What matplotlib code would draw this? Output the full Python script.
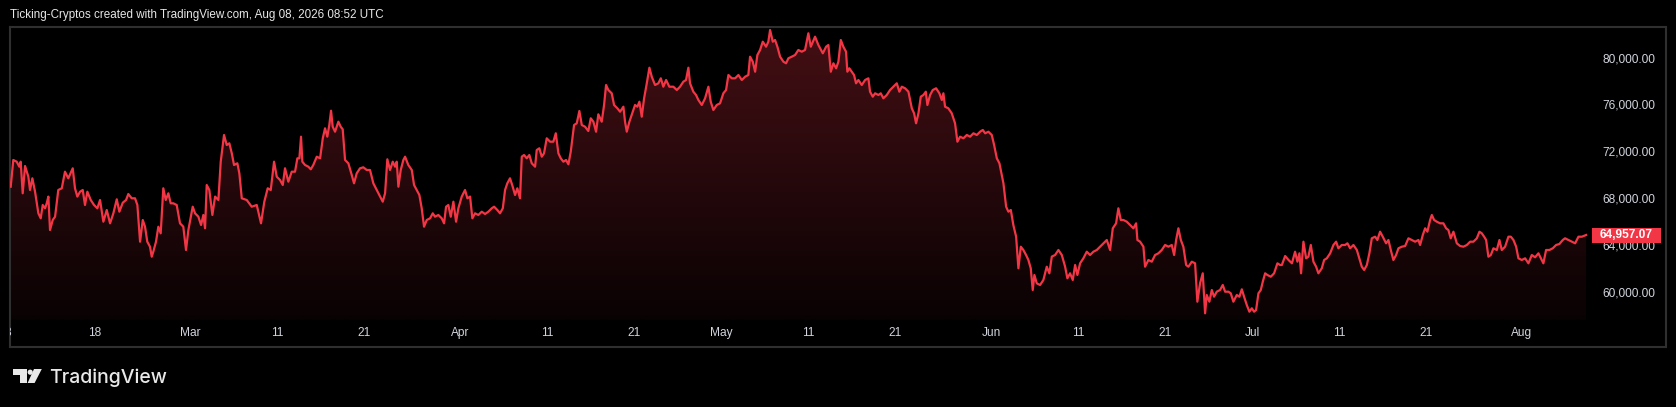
import numpy as np
import pandas as pd
import matplotlib
matplotlib.use("Agg")
import matplotlib.pyplot as plt
import matplotlib.dates as mdates
from matplotlib.colors import LinearSegmentedColormap
from matplotlib.patches import Rectangle, Polygon, Circle
from matplotlib.transforms import IdentityTransform

W, H, DPI = 1676, 407, 100

# ---------------- data (days after 2026-02-08 00:00 UTC, price in USD) ----------------
START = "2026-02-08"

feb_days = [0.33, 0.63, 1.02, 1.32, 1.48, 1.71, 1.98, 2.36, 2.55, 2.82,
            3.13, 3.51, 3.78, 4.01, 4.28, 4.47, 4.66, 4.85, 5.16, 5.43,
            5.80, 6.20, 6.57, 6.95, 7.46, 7.72, 7.99, 8.30, 8.61, 8.87,
            9.14, 9.53, 9.91, 10.29, 10.60, 10.98, 11.37, 11.75, 12.13, 12.52,
            12.82, 13.21, 13.59, 13.85, 14.24, 14.62, 14.89, 15.20, 15.51, 15.77,
            16.03, 16.34, 16.54, 16.72, 17.03, 17.30, 17.57, 17.87, 18.15, 18.45,
            18.72, 19.02, 19.41, 19.79, 20.17, 20.48, 20.75, 21.25, 21.52, 21.90,
            22.21, 22.47, 22.67, 22.86, 23.16, 23.51, 23.82, 24.20, 24.47, 24.85,
            25.16, 25.46, 25.74, 26.00, 26.38, 26.61, 26.89, 27.46, 28.03, 28.61,
            29.10, 29.48, 29.87, 30.22, 30.60, 30.91, 31.29]
feb_prices = [69085, 71368, 71223, 70796, 71223, 68522, 70855, 69940, 68804, 69803,
              68658, 66812, 66385, 67521, 67239, 67667, 68239, 65385, 66240, 66522,
              68804, 68949, 70368, 69803, 70658, 68949, 68239, 68658, 68804, 67521,
              68658, 67949, 67521, 67239, 67949, 66094, 67094, 65957, 66812, 68009,
              66949, 67718, 67949, 68462, 68094, 68094, 67521, 64385, 66240, 65667,
              64385, 63958, 63103, 63530, 64385, 65667, 65103, 68949, 67949, 68522,
              67667, 67667, 67521, 65957, 65667, 63676, 65385, 67376, 66812, 66522,
              65812, 66667, 65530, 69231, 68804, 66667, 68239, 67949, 71223, 73505,
              72650, 72795, 71940, 70940, 71085, 70231, 68094, 67949, 67376, 67521,
              65957, 67804, 68949, 68804, 71223, 69940, 69658]

mar_days = [31.60, 31.86, 32.24, 32.63, 33.01, 33.28, 33.51, 33.70, 33.85, 34.16,
            34.54, 34.82, 35.11, 35.51, 35.89, 36.20, 36.46, 36.72, 36.95, 37.15,
            37.34, 37.61, 37.99, 38.26, 38.49, 38.76, 39.14, 39.53, 39.79, 40.10,
            40.48, 40.86, 41.25, 41.63, 42.01, 42.40, 42.78, 43.09, 43.36, 43.62,
            43.93, 44.24, 44.51, 44.70, 44.89, 45.16, 45.46, 45.66, 46.03, 46.43,
            46.69, 47.00, 47.30, 47.57, 47.84, 48.15, 48.53, 48.84, 49.10, 49.48,
            49.87, 50.14, 50.37, 50.63, 50.91, 51.21, 51.52, 51.78, 52.17, 52.55,
            52.82, 53.13, 53.39, 53.70, 54.08, 54.47, 54.85, 55.23, 55.62, 55.89,
            56.26, 56.57, 56.89, 57.15, 57.41, 57.72, 58.03, 58.30, 58.56, 58.87,
            59.07, 59.33, 59.64, 59.94, 60.22, 60.60, 60.79, 61.09, 61.37, 61.63,
            61.94, 62.32]
mar_prices = [69231, 70658, 69513, 70368, 70368, 71513, 71513, 73359, 71223, 70940,
              70796, 70573, 70940, 71650, 71513, 73223, 74077, 73359, 74359, 75581,
              74214, 73786, 74641, 74214, 73991, 71368, 71085, 70085, 69376, 70231,
              70658, 70744, 70513, 70513, 69376, 68804, 68239, 67804, 68522, 71427,
              70513, 71223, 70796, 71223, 69085, 70513, 71368, 71650, 70940, 70513,
              69231, 68804, 68376, 67239, 65667, 66240, 66385, 66812, 66522, 66667,
              66385, 65957, 67376, 67521, 66522, 67804, 66094, 67239, 68239, 68804,
              68094, 68239, 66385, 66812, 66667, 66949, 66753, 66949, 67239, 67376,
              67094, 66812, 67239, 68804, 69376, 69803, 69085, 68376, 68949, 68094,
              71650, 71795, 71513, 71795, 71085, 70796, 72222, 72368, 71650, 71940,
              73223, 72932]

apr_days = [62.70, 62.98, 63.28, 63.55, 63.85, 64.16, 64.43, 64.70, 65.08, 65.39,
            65.69, 65.97, 66.34, 66.72, 67.00, 67.30, 67.61, 67.87, 68.26, 68.53,
            68.76, 69.02, 69.41, 69.68, 70.06, 70.37, 70.75, 70.94, 71.14, 71.44,
            71.83, 72.09, 72.36, 72.59, 72.86, 73.13, 73.44, 73.74, 74.01, 74.39,
            74.77, 75.05, 75.34, 75.66, 76.03, 76.49, 76.89, 77.26, 77.64, 77.95,
            78.22, 78.41, 78.79, 79.10, 79.37, 79.76, 80.14, 80.52, 80.79, 81.09,
            81.48, 81.86, 82.24, 82.55, 82.82, 83.21, 83.59, 83.97, 84.36, 84.74,
            85.11, 85.31, 85.62, 85.89, 86.15, 86.46, 86.77, 87.15, 87.41, 87.61,
            87.92, 88.18, 88.45, 88.76, 89.14, 89.45, 89.71, 90.10, 90.48, 90.86,
            91.25, 91.63, 92.01, 92.29]
apr_prices = [72932, 73650, 71940, 71513, 71223, 71368, 71000, 72077, 74359, 74504,
              75556, 74359, 74214, 73846, 74932, 74641, 73786, 75274, 74641, 76068,
              77778, 77350, 77069, 76068, 75786, 75496, 75923, 74641, 73786, 74641,
              75496, 76068, 75923, 76351, 75069, 76641, 77923, 79257, 78487, 77778,
              77923, 78350, 77632, 78205, 77632, 77632, 77350, 77632, 78060, 78205,
              79257, 77923, 77205, 76923, 76496, 76068, 76641, 77632, 76351, 75641,
              76068, 76213, 77069, 77350, 78632, 78350, 78350, 78632, 78205, 78487,
              78632, 80197, 79770, 78915, 80342, 80770, 81479, 81052, 81479, 82479,
              81479, 81624, 81052, 80197, 79770, 79633, 80060, 80197, 80342, 80770,
              80624, 80770, 82197, 81052]

may_days = [92.78, 93.16, 93.67, 94.05, 94.31, 94.59, 94.89, 95.20, 95.46, 95.74,
            96.03, 96.34, 96.49, 96.72, 97.00, 97.26, 97.49, 97.76, 98.15, 98.53,
            98.91, 99.10, 99.41, 99.68, 100.06, 100.33, 100.63, 101.02, 101.40, 101.78,
            102.17, 102.47, 102.75, 103.13, 103.51, 103.90, 104.16, 104.39, 104.66, 104.93,
            105.23, 105.51, 105.69, 106.00, 106.31, 106.69, 107.07, 107.35, 107.53, 107.72,
            108.10, 108.49, 108.87, 109.14, 109.45, 109.83, 110.22, 110.60, 110.98, 111.37,
            111.75, 112.06, 112.33, 112.70, 113.09, 113.36, 113.67, 113.97]
may_prices = [81906, 81197, 80487, 81052, 81197, 78915, 79633, 79205, 79770, 81624,
              81052, 80624, 78915, 79205, 78915, 78632, 77923, 78205, 77778, 78205,
              78350, 77205, 76778, 77069, 76923, 77069, 76641, 76923, 77350, 77632,
              77923, 77205, 77632, 77496, 77205, 75786, 75359, 74504, 75359, 76778,
              76923, 77205, 76068, 76923, 77350, 77496, 77069, 76496, 77069, 75923,
              75786, 75359, 74504, 72932, 73359, 73223, 73505, 73359, 73650, 73505,
              73786, 73932, 73650, 73786, 73505, 72650, 71513, 71085]

jun_days = [114.43, 114.74, 115.00, 115.28, 115.57, 115.89, 116.15, 116.43, 116.72, 117.03,
            117.30, 117.57, 117.80, 117.99, 118.26, 118.64, 119.02, 119.41, 119.71, 119.99,
            120.37, 120.75, 121.14, 121.52, 121.78, 122.09, 122.40, 122.67, 122.93, 123.24,
            123.62, 124.01, 124.39, 124.77, 125.16, 125.54, 125.92, 126.31, 126.69, 127.00,
            127.38, 127.64, 127.92, 128.22, 128.61, 128.99, 129.37, 129.68, 129.83, 130.14,
            130.52, 130.71, 131.09, 131.48, 131.86, 132.24, 132.63, 133.01, 133.39, 133.78,
            134.05, 134.28, 134.54, 134.82, 135.11, 135.43, 135.69, 136.08, 136.46, 136.72,
            137.03, 137.34, 137.61, 137.80, 138.10, 138.38, 138.64, 138.95, 139.33, 139.64,
            139.91, 140.29, 140.56, 140.86, 141.25, 141.55, 141.83, 142.09, 142.40, 142.70,
            142.98, 143.24, 143.47, 143.74, 144.01, 144.24, 144.51, 144.77, 145.16, 145.54,
            145.92, 146.23]
jun_prices = [69376, 67376, 66949, 67094, 65812, 64812, 62111, 63957, 63676, 63248,
              62821, 62111, 60257, 61539, 60829, 60684, 61112, 62248, 61684, 63111,
              63248, 63676, 63248, 62248, 61257, 61684, 61112, 62393, 61539, 62538,
              62966, 63530, 63248, 63530, 63676, 63958, 64248, 64530, 63676, 65530,
              65957, 67239, 66240, 66240, 66094, 65812, 65530, 65957, 64530, 64385,
              63958, 62248, 62821, 62676, 63248, 63393, 63676, 64103, 63958, 64103,
              63248, 64530, 65530, 64530, 63958, 62393, 62248, 62676, 62538, 59257,
              60829, 61684, 58265, 59829, 59257, 60257, 59684, 60112, 60257, 60684,
              60112, 60112, 59974, 59257, 59829, 59684, 60317, 59684, 58974, 58401,
              58692, 58401, 58547, 59974, 60257, 60966, 61684, 61539, 61393, 61684,
              62538, 62393]

jul_days = [146.43, 146.81, 147.20, 147.59, 147.95, 148.22, 148.45, 148.64, 148.91, 149.22,
            149.48, 149.76, 150.06, 150.37, 150.63, 151.02, 151.29, 151.60, 151.98, 152.36,
            152.67, 152.93, 153.32, 153.70, 153.97, 154.28, 154.66, 155.05, 155.34, 155.62,
            155.89, 156.20, 156.49, 156.77, 157.15, 157.41, 157.72, 158.03, 158.41, 158.68,
            158.95, 159.25, 159.56, 159.83, 160.22, 160.60, 160.98, 161.37, 161.75, 162.13,
            162.32, 162.63, 162.90, 163.16, 163.47, 163.67, 163.93, 164.24, 164.62, 165.00,
            165.31, 165.57, 165.84, 166.15, 166.54, 166.92, 167.30, 167.69, 168.07, 168.45,
            168.84, 169.14, 169.41, 169.68, 169.91, 170.17, 170.45, 170.75, 171.14, 171.44,
            171.71, 172.09, 172.47, 172.75, 173.05, 173.36, 173.62, 174.01, 174.39, 174.77,
            175.16, 175.54, 175.92, 176.31, 176.49, 176.80, 177.18, 177.57, 177.95, 178.33,
            178.72, 178.98, 179.37, 179.76, 180.14, 180.52, 180.91, 181.40]
jul_prices = [62393, 63163, 62821, 62538, 63530, 62675, 63393, 61684, 64385, 62966,
              63103, 64103, 62676, 62248, 61684, 62111, 62821, 62966, 63393, 64103,
              64385, 63821, 64103, 64103, 64248, 63821, 64103, 63676, 62966, 62248,
              61966, 62393, 63393, 64675, 64812, 64530, 65240, 64812, 64248, 64530,
              63676, 62821, 63248, 63821, 63958, 64017, 64675, 64530, 64385, 64530,
              64103, 64958, 65530, 65240, 66240, 66667, 66240, 66094, 65957, 65957,
              65530, 65385, 64675, 65240, 64248, 64017, 63958, 64103, 64385, 64385,
              64675, 65240, 65103, 64812, 64530, 63103, 63248, 63821, 63676, 64530,
              63676, 63958, 64812, 64812, 64530, 63958, 62966, 62821, 62966, 62538,
              63248, 63052, 63393, 62821, 62538, 63676, 63676, 63821, 64103, 64188,
              64530, 64675, 64530, 64385, 64248, 64812, 64812, 64957.07]

y_ticks = [60000, 64000, 68000, 72000, 76000, 80000]
x_tick_dates = ["2026-02-08", "2026-02-18", "2026-03-01", "2026-03-11", "2026-03-21",
                "2026-04-01", "2026-04-11", "2026-04-21", "2026-05-01", "2026-05-11",
                "2026-05-21", "2026-06-01", "2026-06-11", "2026-06-21", "2026-07-01",
                "2026-07-11", "2026-07-21", "2026-08-01"]
x_tick_labels = ["8", "18", "Mar", "11", "21", "Apr", "11", "21", "May", "11",
                 "21", "Jun", "11", "21", "Jul", "11", "21", "Aug"]
title = "Ticking-Cryptos created with TradingView.com, Aug 08, 2026 08:52 UTC"
brand = "TradingView"

x_range = ["2026-02-08 06:00", "2026-08-17 14:00"]
y_range = (55385, 82735)
pane_floor = 57700

# ---------------- style ----------------
BG = "#000000"
LINE = "#f23645"
TXT = "#d1d4dc"
FRAME = "#2f2f2f"
FONT = ["Liberation Sans", "DejaVu Sans"]

days = np.array(feb_days + mar_days + apr_days + may_days + jun_days + jul_days)
prices = np.array(feb_prices + mar_prices + apr_prices + may_prices + jun_prices + jul_prices, dtype=float)
times = pd.Timestamp(START) + pd.to_timedelta(days, unit="D")
xn = mdates.date2num(times.to_pydatetime())
x0, x1 = mdates.date2num(pd.to_datetime(x_range).to_pydatetime())

fig = plt.figure(figsize=(W / DPI, H / DPI), dpi=DPI, facecolor=BG)


def fx(px):
    return px / W


def fy(py):
    return 1 - py / H


ax = fig.add_axes([fx(10), fy(347), fx(1666) - fx(10), fy(27) - fy(347)])
ax.set_facecolor(BG)
for s in ax.spines.values():
    s.set_color(FRAME)
    s.set_linewidth(1.5)
ax.set_xticks([])
ax.set_yticks([])

# gradient area under the line
cmap = LinearSegmentedColormap.from_list("area", ["#090203", "#440f14"])
grad = np.linspace(0, 1, 256).reshape(-1, 1)
im = ax.imshow(grad, cmap=cmap, origin="lower", aspect="auto",
               extent=[xn[0], xn[-1], pane_floor, prices.max()], zorder=1,
               interpolation="bilinear")
poly = ax.fill_between(xn, prices, pane_floor, facecolor="none", edgecolor="none")
im.set_clip_path(poly.get_paths()[0], transform=ax.transData)

ax.plot(xn, prices, color=LINE, lw=1.6, zorder=3, solid_joinstyle="round")

ax.set_xlim(x0, x1)
ax.set_ylim(*y_range)

# price scale labels
for v in y_ticks:
    ax.text((1602 - 10) / 1656, v, f"{v:,.2f}", transform=ax.get_yaxis_transform(),
            ha="left", va="center", color=TXT, fontsize=8.6, family=FONT, zorder=4)

# time scale labels
for d, lab in zip(x_tick_dates, x_tick_labels):
    ax.text(mdates.date2num(pd.Timestamp(d).to_pydatetime()), (347 - 333) / 320, lab,
            transform=ax.get_xaxis_transform(), ha="center", va="center",
            color=TXT, fontsize=8.6, family=FONT, clip_on=True, zorder=4)

# last price marker
last = prices[-1]
fig.canvas.draw()
yd = ax.transData.transform((xn[-1], last))[1]
box = Rectangle((1592, yd - 7.5), 69, 15, transform=IdentityTransform(),
                facecolor=LINE, edgecolor="none", zorder=5)
fig.add_artist(box)
fig.text(1600 / W, yd / H, f"{last:,.2f}", ha="left", va="center", color="white",
         fontsize=8.6, family=FONT, fontweight="bold", zorder=6)

# header
fig.text(fx(10), fy(15), title, ha="left", va="center", color="#e6e6e6",
         fontsize=8.4, family=FONT)

# TradingView logo
LOGO = "#e8e8e8"
ident = IdentityTransform()
fig.add_artist(Rectangle((12.7, H - 374.5), 14, 5.5, transform=ident, facecolor=LOGO, edgecolor="none"))
fig.add_artist(Rectangle((20.2, H - 383), 6.5, 14, transform=ident, facecolor=LOGO, edgecolor="none"))
fig.add_artist(Circle((30.2, H - 372.2), 2.6, transform=ident, facecolor=LOGO, edgecolor="none"))
fig.add_artist(Polygon([(34.0, H - 369), (41.8, H - 369), (34.6, H - 383), (27.6, H - 383)],
                       closed=True, transform=ident, facecolor=LOGO, edgecolor="none"))
fig.text(fx(49), fy(383), brand, ha="left", va="baseline", color=LOGO,
         fontsize=14, family=["Inter", "DejaVu Sans"], fontweight="medium")

fig.savefig("out.png", dpi=DPI, facecolor=BG)
